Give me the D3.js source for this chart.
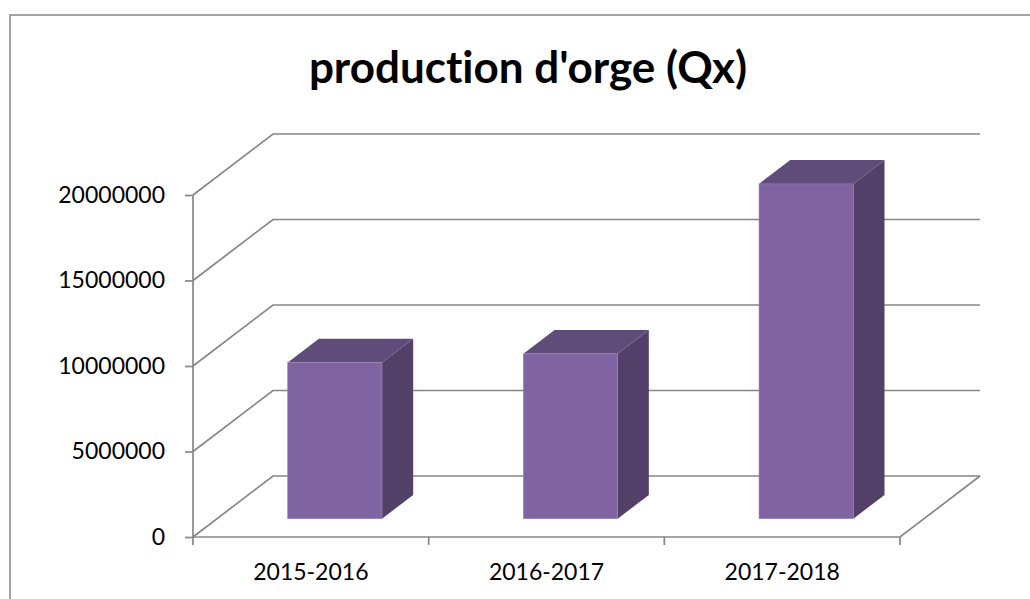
<!DOCTYPE html>
<html>
<head>
<meta charset="utf-8">
<script src="https://cdn.jsdelivr.net/npm/d3@7"></script>
<style>
  body { margin: 0; background: #fff; }
  text { font-family: Lato, "Open Sans", sans-serif; fill: #000; font-variant-ligatures: none; }
</style>
</head>
<body>
<div id="chart"><svg></svg></div>
<script>
// data
var categories = ["2015-2016", "2016-2017", "2017-2018"];
var production = [9130000, 9640000, 19580000];
var yTicks = [0, 5000000, 10000000, 15000000, 20000000];
var title = "production d'orge (Qx)";

var width = 1030,
    height = 599,
    margin = { top: 195, bottom: 62, left: 193, right: 130 }

// oblique depth of the 3D box (px at full depth)
var depthX = 80,
    depthY = -61,
    barFront = 0.30,
    barDepth = 0.39,
    barWidthFrac = 0.40;

var svg = d3.select("#chart svg")
    .attr("width", width)
    .attr("height", height);

// frame of the chart area
svg.append("rect")
    .attr("x", 10)
    .attr("y", 15)
    .attr("width", width)
    .attr("height", height)
    .style("fill", "#fff")
    .style("stroke", "#868686")
    .style("stroke-width", "1.5px");

svg.append("text")
    .attr("x", 528)
    .attr("y", 83)
    .attr("text-anchor", "middle")
    .style("font-size", "44px")
    .style("font-weight", "bold")
    .text(title);

var x0 = margin.left,
    x1 = width - margin.right,
    yBase = height - margin.bottom;

var xScale = d3.scaleBand()
    .domain(categories)
    .range([x0, x1]);

var yScale = d3.scaleLinear()
    .domain([0, 20000000])
    .range([yBase, margin.top]);

var grid = svg.append("g").attr("id", "gridG");

// gridlines: front axis -> back wall, then across the back
grid.selectAll("polyline")
    .data(yTicks)
    .enter()
    .append("polyline")
    .attr("points", function(d){
        var y = yScale(d);
        return [[x0, y], [x0 + depthX, y + depthY], [x1 + depthX, y + depthY]]
            .map(function(p){ return p.join(","); }).join(" ");
    })
    .style("fill", "none")
    .style("stroke", "#868686")
    .style("stroke-width", "1.7px");

// floor front edge and right edge
grid.append("polyline")
    .attr("points", [[x0, yBase], [x1, yBase], [x1 + depthX, yBase + depthY]]
        .map(function(p){ return p.join(","); }).join(" "))
    .style("fill", "none")
    .style("stroke", "#868686")
    .style("stroke-width", "1.7px");

// bars
var bw = xScale.bandwidth() * barWidthFrac,
    fx = depthX * barFront,
    fy = depthY * barFront,
    bx = depthX * barDepth,
    by = depthY * barDepth;

var bars = svg.append("g").attr("id", "barsG")
    .selectAll("g")
    .data(categories.map(function(c, i){ return { cat: c, value: production[i] }; }))
    .enter()
    .append("g")
    .each(function(d){
        var left = xScale(d.cat) + (xScale.bandwidth() - bw) / 2 + fx,
            right = left + bw,
            top = yScale(d.value) + fy,
            bottom = yScale(0) + fy;
        var g = d3.select(this);

        g.append("polygon")
            .attr("points", [[right, top], [right + bx, top + by], [right + bx, bottom + by], [right, bottom]].join(" "))
            .style("fill", "#524068");

        g.append("polygon")
            .attr("points", [[left, top], [left + bx, top + by], [right + bx, top + by], [right, top]].join(" "))
            .style("fill", "#604c7b");

        g.append("rect")
            .attr("x", left)
            .attr("y", top)
            .attr("width", bw)
            .attr("height", bottom - top)
            .style("fill", "#8064a2")
            .style("stroke", "#9a82b8")
            .style("stroke-width", "0.6px");
    });

// y axis
var yAxisG = svg.append("g")
    .attr("id", "yAxisG")
    .attr("transform", "translate(" + x0 + ",0)")
    .call(d3.axisLeft(yScale).tickValues(yTicks).tickFormat(d3.format("d"))
        .tickSize(8).tickPadding(20));

// x axis labels
var xAxisG = svg.append("g")
    .attr("id", "xAxisG")
    .attr("transform", "translate(0," + yBase + ")")
    .call(d3.axisBottom(xScale).tickSize(0).tickPadding(27));

// category boundary ticks
xAxisG.selectAll("line.sep")
    .data(d3.range(categories.length + 1))
    .enter()
    .append("line")
    .attr("class", "sep")
    .attr("x1", function(i){ return x0 + i * xScale.step(); })
    .attr("x2", function(i){ return x0 + i * xScale.step(); })
    .attr("y1", 0)
    .attr("y2", 8);

svg.selectAll(".domain").remove();
svg.selectAll("#yAxisG").append("line")
    .attr("x1", 0).attr("x2", 0)
    .attr("y1", yScale(20000000)).attr("y2", yBase);

svg.selectAll("#yAxisG line, #xAxisG line")
    .style("stroke", "#868686")
    .style("stroke-width", "1.7px");

svg.selectAll("#yAxisG text, #xAxisG text")
    .style("font-size", "23px")
    .style("font-family", "Lato, sans-serif")
    .style("font-variant-ligatures", "none")
    .style("fill", "#000");
</script>
</body>
</html>
